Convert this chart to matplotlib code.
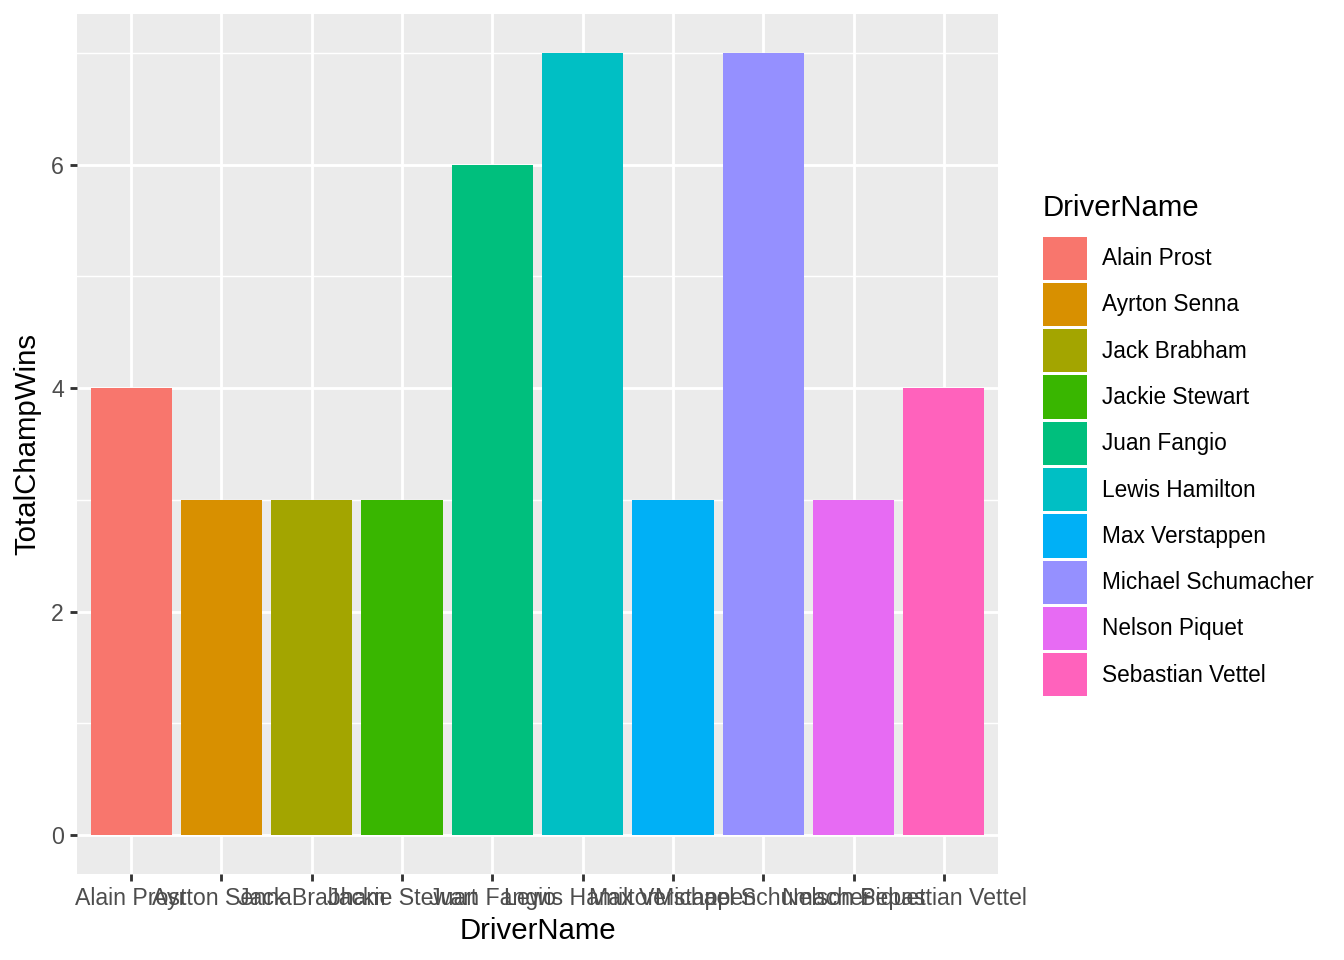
import matplotlib
matplotlib.use("Agg")
import matplotlib.pyplot as plt
from matplotlib.patches import Patch

drivers = ["Alain Prost", "Ayrton Senna", "Jack Brabham", "Jackie Stewart",
           "Juan Fangio", "Lewis Hamilton", "Max Verstappen",
           "Michael Schumacher", "Nelson Piquet", "Sebastian Vettel"]
wins = [4, 3, 3, 3, 6, 7, 3, 7, 3, 4]
colors = ["#F8766D", "#D89000", "#A3A500", "#39B600", "#00BF7D",
          "#00BFC4", "#00B0F6", "#9590FF", "#E76BF3", "#FF62BC"]

plt.rcParams['font.family'] = ['Liberation Sans', 'DejaVu Sans']

fig = plt.figure(figsize=(7, 5), dpi=192)
ax = fig.add_axes([77/1344, 1-874/960, (998-77)/1344, (874-14)/960])
ax.set_facecolor("#EBEBEB")

pos = list(range(1, len(drivers) + 1))
ax.bar(pos, wins, width=0.9, color=colors, zorder=3)

ax.set_xlim(0.4, 10.6)
ax.set_ylim(-0.35, 7.35)
ax.set_xticks(pos)
ax.set_xticklabels(drivers)
ax.set_yticks([0, 2, 4, 6])
ax.set_yticks([1, 3, 5, 7], minor=True)

ax.grid(which="major", color="white", linewidth=1.07, zorder=1)
ax.grid(which="minor", axis="y", color="white", linewidth=0.53, zorder=1)
for s in ax.spines.values():
    s.set_visible(False)

ax.tick_params(which="major", length=2.75, width=1.07, color="#333333",
               labelsize=8.7, labelcolor="#4D4D4D", pad=2.2)
ax.tick_params(which="minor", length=0)

ax.set_xlabel("DriverName", fontsize=11, labelpad=2.5)
ax.set_ylabel("TotalChampWins", fontsize=11, labelpad=3.5)

# legend: title placed on its own, keys below
fig.text(1043/1344, 1-208/960, "DriverName", fontsize=11, va="center", ha="left")
handles = [Patch(facecolor=c, edgecolor="none") for c in colors]
leg = fig.legend(handles, drivers, loc="center left",
                 bbox_to_anchor=(1043/1344, 1-466.5/960), frameon=False,
                 fontsize=8.5, handlelength=1.92,
                 handleheight=2.55, labelspacing=0.14, handletextpad=0.68,
                 borderpad=0, borderaxespad=0)

fig.savefig("out.png", dpi=192)
